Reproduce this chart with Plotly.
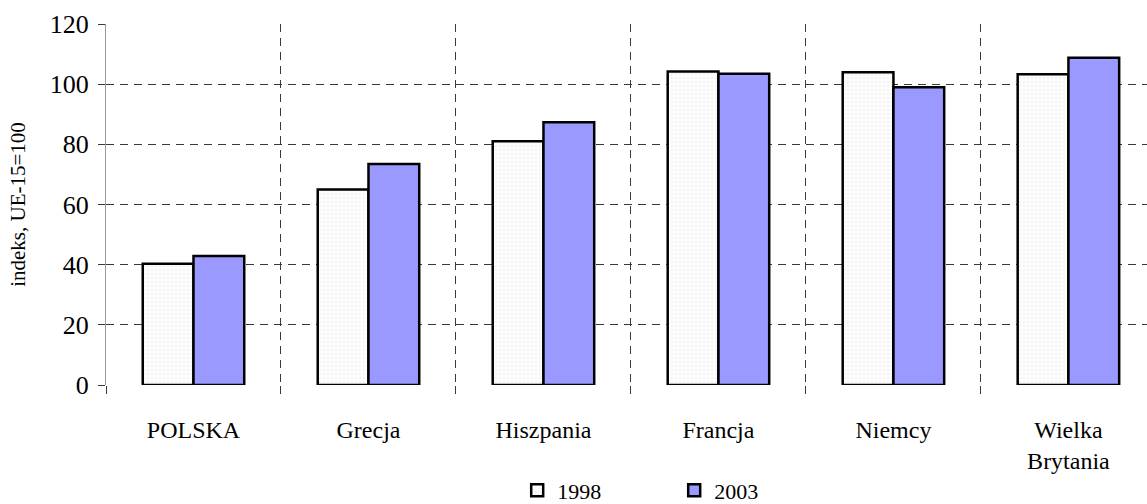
import plotly.graph_objects as go

categories = ["POLSKA", "Grecja", "Hiszpania", "Francja", "Niemcy", "Wielka<br>Brytania"]
values_1998 = [40.3, 65.0, 81.0, 104.2, 104.0, 103.3]
values_2003 = [42.9, 73.5, 87.3, 103.5, 99.0, 108.8]
y_ticks = [0, 20, 40, 60, 80, 100, 120]

FONT = "Liberation Serif, Times New Roman, serif"
GRID = "#3a3a3a"

fig = go.Figure()
fig.add_trace(go.Bar(
    name="1998", x=categories, y=values_1998,
    marker=dict(color="#fbfbfb", line=dict(color="black", width=2.5),
                pattern=dict(shape=".", fgcolor="#d8d8d8", bgcolor="#fdfdfd", size=4, solidity=0.15)),
))
fig.add_trace(go.Bar(
    name="2003", x=categories, y=values_2003,
    marker=dict(color="#9999ff", line=dict(color="black", width=2.5)),
))

fig.update_layout(
    width=1147, height=504,
    margin=dict(l=106, r=0, t=24, b=119, autoexpand=False),
    paper_bgcolor="white", plot_bgcolor="white",
    barmode="group", bargap=0.42, bargroupgap=0,
    font=dict(family=FONT, color="black"),
    showlegend=True,
    legend=dict(orientation="h", x=0.395, xanchor="left", y=-0.35, yanchor="bottom",
                font=dict(size=22, family=FONT), entrywidth=112, entrywidthmode="pixels",
                itemwidth=30, bgcolor="rgba(0,0,0,0)", tracegroupgap=0),
    xaxis=dict(
        range=[-0.5, 5.449], tickson="boundaries", showgrid=True,
        gridcolor=GRID, griddash="8px,6px", gridwidth=1,
        ticks="outside", ticklen=8, tickcolor=GRID,
        tickfont=dict(size=24, family=FONT), ticklabelstandoff=28,
        showline=False, zeroline=False, automargin=False,
    ),
    yaxis=dict(
        range=[0, 120], tickvals=y_ticks, showgrid=True,
        gridcolor=GRID, griddash="8px,6px", gridwidth=1,
        ticks="outside", ticklen=7, tickcolor=GRID,
        tickfont=dict(size=26, family=FONT), ticklabelstandoff=4,
        showline=True, linecolor="#9a9a9a", linewidth=1,
        zeroline=False, automargin=False,
        title=dict(text="indeks, UE-15=100", font=dict(size=21, family=FONT), standoff=18),
    ),
)

fig.write_html("out.html")
